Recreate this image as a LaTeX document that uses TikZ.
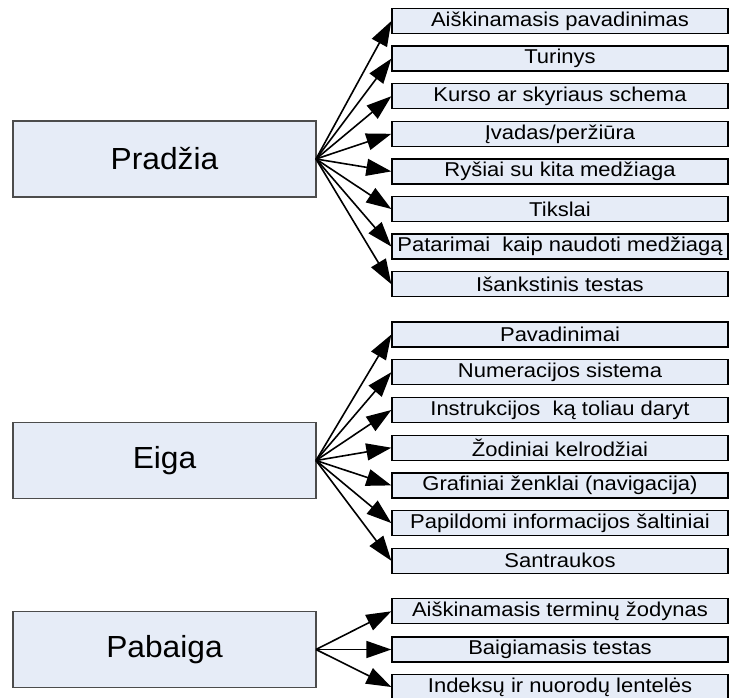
\documentclass[tikz,border=0pt]{standalone}
\usepackage{fontspec}
\setmainfont{Liberation Sans}
\newfontfamily\itemfont[FakeStretch=1.1]{Liberation Sans}
\newfontfamily\partfont[FakeStretch=1.04]{Liberation Sans}
\usetikzlibrary{arrows.meta}
\definecolor{boxfill}{RGB}{230,236,247}

\begin{document}
\begin{tikzpicture}[x=1pt,y=-1pt,
  part/.style={draw=black!70, line width=1.3pt, fill=boxfill,
    minimum width=303pt, minimum height=76pt, inner sep=0pt,
    font=\partfont\fontsize{30.5}{36}\selectfont},
  item/.style={draw=black, line width=1.3pt, fill=boxfill,
    minimum width=336pt, minimum height=25pt, inner sep=0pt,
    font=\itemfont\fontsize{20}{22}\selectfont},
  link/.style={line width=1.6pt, -{Triangle[length=25pt,width=17pt]}}]

\useasboundingbox (0,0) rectangle (729,697);

% --- Pradžia ---
\node[part] (p) at (164.5,159) {Pradžia};
\coordinate (po) at (316,159);
\node[item] (p1) at (560,21)    {Aiškinamasis pavadinimas};
\node[item] (p2) at (560,58.6)  {Turinys};
\node[item] (p3) at (560,96.2)  {Kurso ar skyriaus schema};
\node[item] (p4) at (560,133.8) {Įvadas/peržiūra};
\node[item] (p5) at (560,171.4) {Ryšiai su kita medžiaga};
\node[item] (p6) at (560,209)   {Tikslai};
\node[item] (p7) at (560,246.6) {Patarimai\ \ kaip naudoti medžiagą};
\node[item] (p8) at (560,284.2) {Išankstinis testas};
\foreach \i in {1,...,8} \draw[link] (po) -- (p\i.west);

% --- Eiga ---
\node[part] (e) at (164.5,460.5) {Eiga};
\coordinate (eo) at (316,460.5);
\node[item] (e1) at (560,334.5) {Pavadinimai};
\node[item] (e2) at (560,372.2) {Numeracijos sistema};
\node[item] (e3) at (560,410)   {Instrukcijos\ \ ką toliau daryt};
\node[item] (e4) at (560,447.7) {Žodiniai kelrodžiai};
\node[item] (e5) at (560,485.4) {Grafiniai ženklai (navigacija)};
\node[item] (e6) at (560,523.1) {Papildomi informacijos šaltiniai};
\node[item] (e7) at (560,560.8) {Santraukos};
\foreach \i in {1,...,7} \draw[link] (eo) -- (e\i.west);

% --- Pabaiga ---
\node[part] (b) at (164.5,649.5) {Pabaiga};
\coordinate (bo) at (316,649.5);
\node[item] (b1) at (560,611.3) {Aiškinamasis terminų žodynas};
\node[item] (b2) at (560,649.5) {Baigiamasis testas};
\node[item] (b3) at (560,687)   {Indeksų ir nuorodų lentelės};
\foreach \i in {1,...,3} \draw[link] (bo) -- (b\i.west);
\end{tikzpicture}
\end{document}
